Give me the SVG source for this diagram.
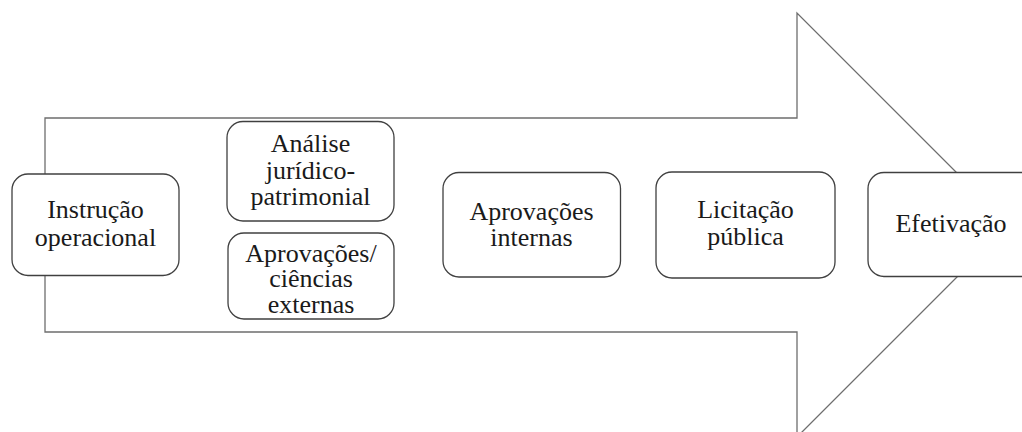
<svg xmlns="http://www.w3.org/2000/svg" width="1022" height="432" viewBox="0 0 1022 432">
<defs>
<style>
.box{fill:#fff;stroke:#404040;stroke-width:1.3}
.arrow{fill:#fff;stroke:#6e6e6e;stroke-width:1.3}
</style>
</defs>
<rect width="1022" height="432" fill="#fff"/>
<g id="connectors">
<path class="arrow" d="M45,118 L797,118 L797,13 L1009,225 L797,437 L797,332 L45,332 Z"/>
</g>
<g font-family="Liberation Serif" font-size="26" fill="#1a1a1a" text-anchor="middle">
<g id="n1"><rect class="box" x="12" y="174" width="167" height="101.5" rx="16"/>
<text x="95.5" y="218">Instrução</text><text x="95.5" y="246">operacional</text></g>
<g id="n2"><rect class="box" x="227" y="121.5" width="167" height="99.5" rx="16"/>
<text x="310.5" y="152">Análise</text><text x="310.5" y="178.5">jurídico-</text><text x="310.5" y="205">patrimonial</text></g>
<g id="n3"><rect class="box" x="228" y="233" width="166" height="86" rx="16"/>
<text x="311" y="261.5">Aprovações/</text><text x="311" y="287">ciências</text><text x="311" y="312.5">externas</text></g>
<g id="n4"><rect class="box" x="443" y="172.5" width="177.5" height="104.5" rx="16"/>
<text x="531.5" y="220">Aprovações</text><text x="531.5" y="246">internas</text></g>
<g id="n5"><rect class="box" x="656" y="172" width="179" height="106" rx="16"/>
<text x="745.5" y="218">Licitação</text><text x="745.5" y="245">pública</text></g>
<g id="n6"><rect class="box" x="868" y="172.5" width="170" height="104" rx="16"/>
<text x="951" y="232">Efetivação</text></g>
</g>
</svg>
